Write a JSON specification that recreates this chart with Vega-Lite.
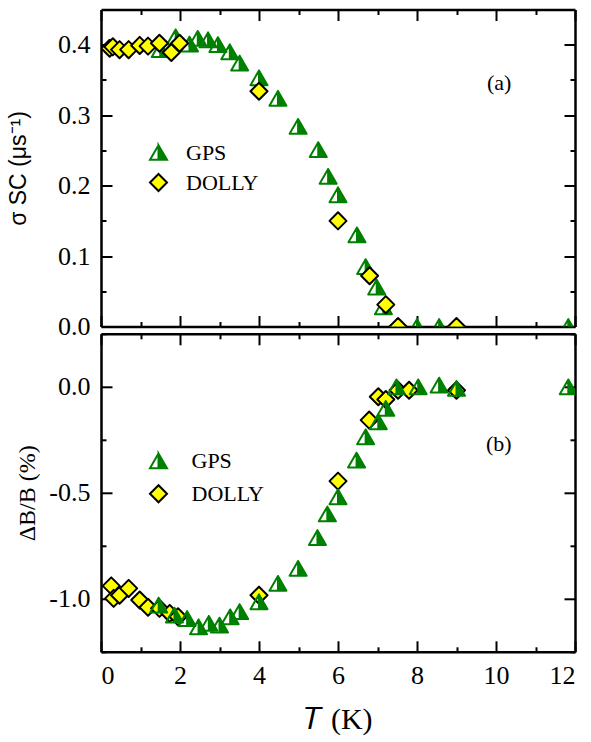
{
  "$schema": "https://vega.github.io/schema/vega-lite/v6.json",
  "background": "white",
  "padding": {"left": 7, "top": 8.5, "right": 5, "bottom": 5},
  "spacing": 7.3,
  "bounds": "flush",
  "config": {
    "view": {"stroke": null},
    "axis": {"domainColor": "black", "domainWidth": 2.5, "tickColor": "black", "tickWidth": 2, "labelFont": "Liberation Serif", "labelFontSize": 26, "labelColor": "black", "titleFont": "Liberation Serif", "titleColor": "black", "titleFontWeight": "normal", "grid": false}
  },
  "resolve": {"scale": {"shape": "independent", "fill": "independent", "stroke": "independent"}},
  "datasets": {
    "top": [
      {"T": 1.5, "v": 0.393, "series": "GPS"},
      {"T": 1.89, "v": 0.411, "series": "GPS"},
      {"T": 2.24, "v": 0.401, "series": "GPS"},
      {"T": 2.45, "v": 0.409, "series": "GPS"},
      {"T": 2.71, "v": 0.407, "series": "GPS"},
      {"T": 2.96, "v": 0.4, "series": "GPS"},
      {"T": 3.26, "v": 0.39, "series": "GPS"},
      {"T": 3.51, "v": 0.374, "series": "GPS"},
      {"T": 4.0, "v": 0.353, "series": "GPS"},
      {"T": 4.48, "v": 0.324, "series": "GPS"},
      {"T": 4.99, "v": 0.284, "series": "GPS"},
      {"T": 5.5, "v": 0.251, "series": "GPS"},
      {"T": 5.75, "v": 0.213, "series": "GPS"},
      {"T": 6.0, "v": 0.187, "series": "GPS"},
      {"T": 6.48, "v": 0.13, "series": "GPS"},
      {"T": 6.7, "v": 0.085, "series": "GPS"},
      {"T": 6.98, "v": 0.056, "series": "GPS"},
      {"T": 7.15, "v": 0.028, "series": "GPS"},
      {"T": 7.5, "v": 0.0, "series": "GPS"},
      {"T": 8.0, "v": 0.0, "series": "GPS"},
      {"T": 8.56, "v": 0.0, "series": "GPS"},
      {"T": 9.0, "v": 0.0, "series": "GPS"},
      {"T": 11.83, "v": 0.0, "series": "GPS"},
      {"T": 0.22, "v": 0.395, "series": "DOLLY"},
      {"T": 0.3, "v": 0.397, "series": "DOLLY"},
      {"T": 0.47, "v": 0.393, "series": "DOLLY"},
      {"T": 0.7, "v": 0.393, "series": "DOLLY"},
      {"T": 0.98, "v": 0.399, "series": "DOLLY"},
      {"T": 1.19, "v": 0.398, "series": "DOLLY"},
      {"T": 1.48, "v": 0.402, "series": "DOLLY"},
      {"T": 1.78, "v": 0.389, "series": "DOLLY"},
      {"T": 1.99, "v": 0.402, "series": "DOLLY"},
      {"T": 4.0, "v": 0.334, "series": "DOLLY"},
      {"T": 6.0, "v": 0.15, "series": "DOLLY"},
      {"T": 6.8, "v": 0.072, "series": "DOLLY"},
      {"T": 7.21, "v": 0.031, "series": "DOLLY"},
      {"T": 7.52, "v": 0.0, "series": "DOLLY"},
      {"T": 9.0, "v": 0.0, "series": "DOLLY"}
    ],
    "bottom": [
      {"T": 0.26, "v": -0.939, "series": "DOLLY"},
      {"T": 0.32, "v": -0.998, "series": "DOLLY"},
      {"T": 0.47, "v": -0.983, "series": "DOLLY"},
      {"T": 0.7, "v": -0.951, "series": "DOLLY"},
      {"T": 0.98, "v": -1.006, "series": "DOLLY"},
      {"T": 1.19, "v": -1.04, "series": "DOLLY"},
      {"T": 1.48, "v": -1.045, "series": "DOLLY"},
      {"T": 1.74, "v": -1.069, "series": "DOLLY"},
      {"T": 1.95, "v": -1.085, "series": "DOLLY"},
      {"T": 4.0, "v": -0.983, "series": "DOLLY"},
      {"T": 6.0, "v": -0.445, "series": "DOLLY"},
      {"T": 6.79, "v": -0.157, "series": "DOLLY"},
      {"T": 7.02, "v": -0.047, "series": "DOLLY"},
      {"T": 7.21, "v": -0.06, "series": "DOLLY"},
      {"T": 7.52, "v": -0.016, "series": "DOLLY"},
      {"T": 7.8, "v": -0.016, "series": "DOLLY"},
      {"T": 9.0, "v": -0.016, "series": "DOLLY"},
      {"T": 1.46, "v": -1.03, "series": "GPS"},
      {"T": 1.86, "v": -1.077, "series": "GPS"},
      {"T": 2.18, "v": -1.093, "series": "GPS"},
      {"T": 2.47, "v": -1.132, "series": "GPS"},
      {"T": 2.73, "v": -1.116, "series": "GPS"},
      {"T": 3.0, "v": -1.124, "series": "GPS"},
      {"T": 3.27, "v": -1.085, "series": "GPS"},
      {"T": 3.51, "v": -1.061, "series": "GPS"},
      {"T": 4.0, "v": -1.014, "series": "GPS"},
      {"T": 4.48, "v": -0.927, "series": "GPS"},
      {"T": 4.99, "v": -0.857, "series": "GPS"},
      {"T": 5.48, "v": -0.711, "series": "GPS"},
      {"T": 5.73, "v": -0.6, "series": "GPS"},
      {"T": 6.0, "v": -0.519, "series": "GPS"},
      {"T": 6.47, "v": -0.346, "series": "GPS"},
      {"T": 6.7, "v": -0.236, "series": "GPS"},
      {"T": 7.02, "v": -0.165, "series": "GPS"},
      {"T": 7.21, "v": -0.102, "series": "GPS"},
      {"T": 7.48, "v": 0.0, "series": "GPS"},
      {"T": 8.03, "v": 0.0, "series": "GPS"},
      {"T": 8.56, "v": 0.008, "series": "GPS"},
      {"T": 9.0, "v": -0.008, "series": "GPS"},
      {"T": 11.83, "v": 0.0, "series": "GPS"}
    ]
  },
  "vconcat": [
    {
      "width": 474,
      "height": 317,
      "data": {"name": "top"},
      "resolve": {"axis": {"x": "independent", "y": "independent"}},
      "layer": [
        {
          "mark": {"type": "point", "filled": true, "clip": true, "size": 290, "strokeWidth": 2, "opacity": 1, "strokeJoin": "round"},
          "encoding": {
            "x": {"field": "T", "type": "quantitative", "scale": {"domain": [0, 12], "nice": false, "zero": false},
              "axis": {"orient": "bottom", "values": [0,1,2,3,4,5,6,7,8,9,10,11,12], "labels": false, "title": null,
                "tickSize": {"condition": {"test": "datum.value % 2 === 0", "value": -11}, "value": -5}}},
            "y": {"field": "v", "type": "quantitative", "scale": {"domain": [0, 0.45], "nice": false},
              "axis": {"orient": "left", "values": [0,0.05,0.1,0.15,0.2,0.25,0.3,0.35,0.4],
                "labelExpr": "round(datum.value*100) % 10 === 0 ? format(datum.value, '.1f') : ''",
                "tickSize": {"condition": {"test": "round(datum.value*100) % 10 === 0", "value": -11}, "value": -5},
                "labelPadding": 22, "title": "σ SC (μs⁻¹)", "titleFont": "Liberation Sans", "titleFontSize": 23, "titlePadding": 27.5}},
            "shape": {"field": "series", "type": "nominal",
              "scale": {"domain": ["GPS", "DOLLY"], "range": ["M0,-0.866L1,0.866L0,0.866Z M0,-0.866L-1,0.866L0,0.866L-1,0.866Z", "diamond"]},
              "legend": {"orient": "none", "legendX": 46.5, "legendY": 132, "title": null, "labelFont": "Liberation Serif", "labelFontSize": 22, "labelColor": "black", "symbolSize": 290, "symbolStrokeWidth": 2, "labelOffset": 16.5, "rowPadding": 5, "padding": 0}},
            "fill": {"field": "series", "type": "nominal", "scale": {"domain": ["GPS", "DOLLY"], "range": ["#008000", "#FFFF00"]},
              "legend": {"orient": "none", "legendX": 46.5, "legendY": 132, "title": null, "labelFont": "Liberation Serif", "labelFontSize": 22, "labelColor": "black", "symbolSize": 290, "symbolStrokeWidth": 2, "labelOffset": 16.5, "rowPadding": 5, "padding": 0}},
            "stroke": {"field": "series", "type": "nominal", "scale": {"domain": ["GPS", "DOLLY"], "range": ["#008000", "#000000"]},
              "legend": {"orient": "none", "legendX": 46.5, "legendY": 132, "title": null, "labelFont": "Liberation Serif", "labelFontSize": 22, "labelColor": "black", "symbolSize": 290, "symbolStrokeWidth": 2, "labelOffset": 16.5, "rowPadding": 5, "padding": 0}}
          }
        },
        {
          "mark": {"type": "point", "opacity": 0, "clip": true},
          "encoding": {
            "x": {"field": "T", "type": "quantitative", "scale": {"domain": [0, 12], "nice": false, "zero": false},
              "axis": {"orient": "top", "values": [0,1,2,3,4,5,6,7,8,9,10,11,12], "labels": false, "title": null,
                "tickSize": {"condition": {"test": "datum.value % 2 === 0", "value": -11}, "value": -5}}},
            "y": {"field": "v", "type": "quantitative", "scale": {"domain": [0, 0.45], "nice": false},
              "axis": {"orient": "right", "values": [0,0.05,0.1,0.15,0.2,0.25,0.3,0.35,0.4], "labels": false, "title": null,
                "tickSize": {"condition": {"test": "round(datum.value*100) % 10 === 0", "value": -11}, "value": -5}}}
          }
        },
        {
          "data": {"values": [{"label": "(a)"}]},
          "mark": {"type": "text", "font": "Liberation Serif", "fontSize": 22, "fill": "black", "align": "center", "baseline": "middle"},
          "encoding": {
            "x": {"datum": 10.08, "type": "quantitative", "axis": null},
            "y": {"datum": 0.346, "type": "quantitative", "axis": null},
            "text": {"field": "label"}
          }
        }
      ]
    },
    {
      "width": 474,
      "height": 318,
      "data": {"name": "bottom"},
      "resolve": {"axis": {"x": "independent", "y": "independent"}},
      "layer": [
        {
          "mark": {"type": "point", "filled": true, "clip": true, "size": 290, "strokeWidth": 2, "opacity": 1, "strokeJoin": "round"},
          "encoding": {
            "x": {"field": "T", "type": "quantitative", "scale": {"domain": [0, 12], "nice": false, "zero": false},
              "axis": {"orient": "bottom", "values": [0,1,2,3,4,5,6,7,8,9,10,11,12],
                "labelExpr": "datum.value % 2 === 0 ? datum.label : ''", "labelPadding": 22,
                "title": "𝑇 (K)", "titleFontSize": 30, "titlePadding": 16,
                "tickSize": {"condition": {"test": "datum.value % 2 === 0", "value": -11}, "value": -5}}},
            "y": {"field": "v", "type": "quantitative", "scale": {"domain": [-1.25, 0.25], "nice": false, "zero": false},
              "axis": {"orient": "left", "values": [-1.25,-1,-0.75,-0.5,-0.25,0,0.25],
                "labelExpr": "round(datum.value*100) % 50 === 0 ? (datum.value < 0 ? '-' : '') + format(abs(datum.value), '.1f') : ''",
                "tickSize": {"condition": {"test": "round(datum.value*100) % 50 === 0", "value": -11}, "value": -5},
                "labelPadding": 22, "title": "ΔB/B (%)", "titleFontSize": 24, "titlePadding": 9}},
            "shape": {"field": "series", "type": "nominal",
              "scale": {"domain": ["GPS", "DOLLY"], "range": ["M0,-0.866L1,0.866L0,0.866Z M0,-0.866L-1,0.866L0,0.866L-1,0.866Z", "diamond"]},
              "legend": {"orient": "none", "legendX": 46.5, "legendY": 116, "title": null, "labelFont": "Liberation Serif", "labelFontSize": 22, "labelColor": "black", "symbolSize": 290, "symbolStrokeWidth": 2, "labelOffset": 22, "rowPadding": 8, "padding": 0}},
            "fill": {"field": "series", "type": "nominal", "scale": {"domain": ["GPS", "DOLLY"], "range": ["#008000", "#FFFF00"]},
              "legend": {"orient": "none", "legendX": 46.5, "legendY": 116, "title": null, "labelFont": "Liberation Serif", "labelFontSize": 22, "labelColor": "black", "symbolSize": 290, "symbolStrokeWidth": 2, "labelOffset": 22, "rowPadding": 8, "padding": 0}},
            "stroke": {"field": "series", "type": "nominal", "scale": {"domain": ["GPS", "DOLLY"], "range": ["#008000", "#000000"]},
              "legend": {"orient": "none", "legendX": 46.5, "legendY": 116, "title": null, "labelFont": "Liberation Serif", "labelFontSize": 22, "labelColor": "black", "symbolSize": 290, "symbolStrokeWidth": 2, "labelOffset": 22, "rowPadding": 8, "padding": 0}}
          }
        },
        {
          "mark": {"type": "point", "opacity": 0, "clip": true},
          "encoding": {
            "x": {"field": "T", "type": "quantitative", "scale": {"domain": [0, 12], "nice": false, "zero": false},
              "axis": {"orient": "top", "values": [0,1,2,3,4,5,6,7,8,9,10,11,12], "labels": false, "title": null,
                "tickSize": {"condition": {"test": "datum.value % 2 === 0", "value": -11}, "value": -5}}},
            "y": {"field": "v", "type": "quantitative", "scale": {"domain": [-1.25, 0.25], "nice": false, "zero": false},
              "axis": {"orient": "right", "values": [-1.25,-1,-0.75,-0.5,-0.25,0,0.25], "labels": false, "title": null,
                "tickSize": {"condition": {"test": "round(datum.value*100) % 50 === 0", "value": -11}, "value": -5}}}
          }
        },
        {
          "data": {"values": [{"label": "(b)"}]},
          "mark": {"type": "text", "font": "Liberation Serif", "fontSize": 22, "fill": "black", "align": "center", "baseline": "middle"},
          "encoding": {
            "x": {"datum": 10.07, "type": "quantitative", "axis": null},
            "y": {"datum": -0.27, "type": "quantitative", "axis": null},
            "text": {"field": "label"}
          }
        }
      ]
    }
  ]
}
